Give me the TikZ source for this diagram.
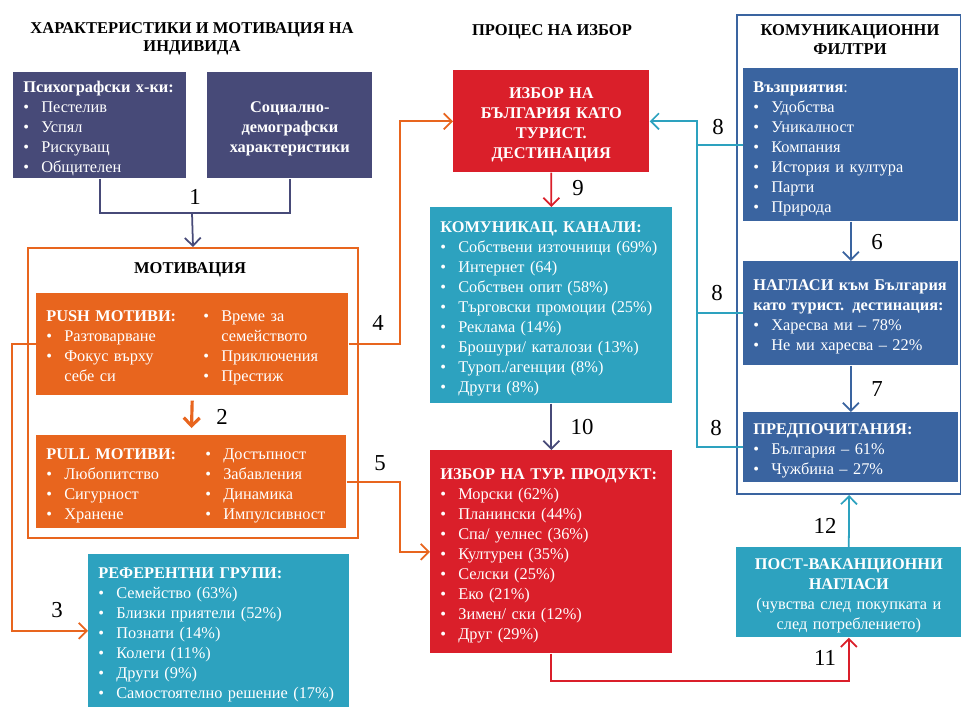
\documentclass[tikz,border=0pt]{standalone}
\usepackage{fontspec}
\setmainfont{Liberation Serif}
\usetikzlibrary{positioning,calc,arrows.meta}

\definecolor{slate}{RGB}{71,74,120}
\definecolor{orng}{RGB}{232,101,30}
\definecolor{teal1}{RGB}{45,162,191}
\definecolor{red1}{RGB}{218,31,42}
\definecolor{blue1}{RGB}{58,100,160}

\newcommand{\bl}{\makebox[0.36cm][l]{\textbullet}}
\newcommand{\ind}{\hspace*{0.36cm}}
\newcommand{\boxfont}{\fontsize{9.3}{11.4}\selectfont}

\tikzset{
  box/.style={fill=#1, anchor=north west, inner xsep=0.2cm, inner ysep=0pt,
    text=white, align=left, font=\boxfont, execute at begin node={\rule{0pt}{0.37cm}}},
  frame/.style={draw=#1, line width=1.2pt, anchor=north west, inner sep=0pt},
  head/.style={font=\bfseries\fontsize{9.4}{10.4}\selectfont, align=center, inner sep=0pt},
  num/.style={font=\fontsize{13}{15}\selectfont, inner sep=0pt},
  conn/.style={draw=#1, line width=1pt}
}

\begin{document}
\begin{tikzpicture}[x=0.02cm,y=-0.02cm,>={Straight Barb[length=1.6mm,width=3.2mm]}]
\useasboundingbox (0,0) rectangle (961,707);

\node[head] (t1) at (192,39) {ХАРАКТЕРИСТИКИ И МОТИВАЦИЯ НА\\ИНДИВИДА};
\node[head] (t2) at (552,32) {ПРОЦЕС НА ИЗБОР};

\begin{scope}
\node[box=slate, minimum width=3.46cm, minimum height=2.12cm, text width=3.06cm] (psy) at (13,72)
  {\textbf{Психографски х-ки:}\\ \bl Пестелив\\ \bl Успял\\ \bl Рискуващ\\ \bl Общителен};
\node[box=slate, minimum width=3.30cm, minimum height=2.12cm, text width=2.90cm, align=center,
  font=\bfseries\boxfont] (soc) at (207,72)
  {Социално-\\демографски\\характеристики};

\node[frame=orng, minimum width=6.6cm, minimum height=5.8cm] (motiv) at (27,247) {};
\node[head] (t4) at (190,270) {МОТИВАЦИЯ};

\node[box=orng, minimum width=6.24cm, minimum height=2.04cm, text width=5.84cm] (push) at (36,293)
  {\begin{minipage}[t]{3.14cm}\textbf{PUSH МОТИВИ:}\\ \bl Разтоварване\\ \bl Фокус върху\\ \ind себе си\end{minipage}%
   \begin{minipage}[t]{2.70cm}\bl Време за\\ \ind семейството\\ \bl Приключения\\ \bl Престиж\end{minipage}};
\node[box=orng, minimum width=6.20cm, minimum height=1.86cm, text width=5.80cm] (pull) at (36,435)
  {\begin{minipage}[t]{3.18cm}\textbf{PULL МОТИВИ:}\\ \bl Любопитство\\ \bl Сигурност\\ \bl Хранене\end{minipage}%
   \begin{minipage}[t]{2.62cm}\bl Достъпност\\ \bl Забавления\\ \bl Динамика\\ \bl Импулсивност\end{minipage}};

\node[box=teal1, minimum width=5.22cm, minimum height=3.06cm, text width=4.82cm] (ref) at (88,554)
  {\textbf{РЕФЕРЕНТНИ ГРУПИ:}\\ \bl Семейство (63\%)\\ \bl Близки приятели (52\%)\\ \bl Познати (14\%)\\
   \bl Колеги (11\%)\\ \bl Други (9\%)\\ \bl Самостоятелно решение (17\%)};
\end{scope}

\begin{scope}
\node[box=red1, minimum width=3.92cm, minimum height=2.04cm, text width=3.52cm, align=center,
  font=\bfseries\boxfont] (dest) at (453,70)
  {ИЗБОР НА\\БЪЛГАРИЯ КАТО\\ТУРИСТ.\\ДЕСТИНАЦИЯ};
\node[box=teal1, minimum width=4.84cm, minimum height=3.92cm, text width=4.44cm] (chan) at (430,207)
  {\textbf{КОМУНИКАЦ. КАНАЛИ:}\\ \bl Собствени източници (69\%)\\ \bl Интернет (64)\\ \bl Собствен опит (58\%)\\
   \bl Търговски промоции (25\%)\\ \bl Реклама (14\%)\\ \bl Брошури/ каталози (13\%)\\ \bl Туроп./агенции (8\%)\\ \bl Други (8\%)};
\node[box=red1, minimum width=4.84cm, minimum height=4.06cm, text width=4.44cm] (prod) at (430,450)
  {\textbf{ИЗБОР НА ТУР. ПРОДУКТ:}\\ \bl Морски (62\%)\\ \bl Планински (44\%)\\ \bl Спа/ уелнес (36\%)\\
   \bl Културен (35\%)\\ \bl Селски (25\%)\\ \bl Еко (21\%)\\ \bl Зимен/ ски (12\%)\\ \bl Друг (29\%)};
\end{scope}

\begin{scope}
\node[frame=blue1, minimum width=4.48cm, minimum height=9.58cm] (filt) at (736,14) {};
\node[head, font=\bfseries\fontsize{9.4}{10.8}\selectfont] (t3) at (850,40) {КОМУНИКАЦИОННИ\\ФИЛТРИ};
\node[box=blue1, minimum width=4.30cm, minimum height=3.06cm, text width=3.90cm] (perc) at (743,68)
  {\textbf{Възприятия}:\\ \bl Удобства\\ \bl Уникалност\\ \bl Компания\\ \bl История и култура\\ \bl Парти\\ \bl Природа};
\node[box=blue1, minimum width=4.30cm, minimum height=2.08cm, text width=3.90cm] (att) at (743,261)
  {\textbf{НАГЛАСИ към България}\\ \textbf{като турист. дестинация:}\\ \bl Харесва ми – 78\%\\ \bl Не ми харесва – 22\%};
\node[box=blue1, minimum width=4.30cm, minimum height=1.40cm, text width=3.90cm] (pref) at (743,412)
  {\textbf{ПРЕДПОЧИТАНИЯ:}\\ \bl България – 61\%\\ \bl Чужбина – 27\%};
\node[box=teal1, minimum width=4.50cm, minimum height=1.80cm, text width=4.10cm, align=center] (post) at (736,547)
  {\textbf{ПОСТ-ВАКАНЦИОННИ}\\ \textbf{НАГЛАСИ}\\ (чувства след покупката и\\ след потреблението)};
\end{scope}

\coordinate (j1) at (192,213);
\coordinate (bus) at (400,0);
\coordinate (bus8) at (697,0);

\draw[conn=slate] (psy.south) |- (j1) -| (soc.south);
\draw[conn=slate, ->] (j1) -- (motiv.north);
\draw[conn=orng, line width=1.8pt, ->, shorten <=0.1cm, shorten >=0.14cm] (push.south) -- (pull.north);
\draw[conn=orng, ->] (push.west) -- ++(-24,0) |- (ref.west);
\draw[conn=orng, ->] (push.east) -- (push.east -| bus) |- (dest.west);
\draw[conn=orng, ->] (pull.east) -- (pull.east -| bus) |- (prod.west);
\draw[conn=red1, ->] (dest.south) -- (chan.north);
\draw[conn=slate, ->] (chan.south) -- (prod.north);
\draw[conn=red1, ->] (prod.south) -- ++(0,27) -| (post.south);
\draw[conn=teal1, ->] (post.north) -- (filt.south);
\draw[conn=blue1, ->] (perc.south) -- (att.north);
\draw[conn=blue1, ->] (att.south) -- (pref.north);
\draw[conn=teal1] (perc.west) -- (perc.west -| bus8);
\draw[conn=teal1] (att.west) -- (att.west -| bus8);
\draw[conn=teal1, ->] (pref.west) -- (pref.west -| bus8) |- (dest.east);

\node[num] (n1) at (195,197) {1};
\node[num] (n2) at (222,417) {2};
\node[num] (n3) at (57,610) {3};
\node[num] (n4) at (378,323) {4};
\node[num] (n5) at (380,463) {5};
\node[num] (n6) at (877,242) {6};
\node[num] (n7) at (877,389) {7};
\node[num] (n8a) at (718,127) {8};
\node[num] (n8b) at (717,293) {8};
\node[num] (n8c) at (716,428) {8};
\node[num] (n9) at (578,188) {9};
\node[num] (n10) at (582,427) {10};
\node[num] (n11) at (825,658) {11};
\node[num] (n12) at (825,526) {12};
\end{tikzpicture}
\end{document}
